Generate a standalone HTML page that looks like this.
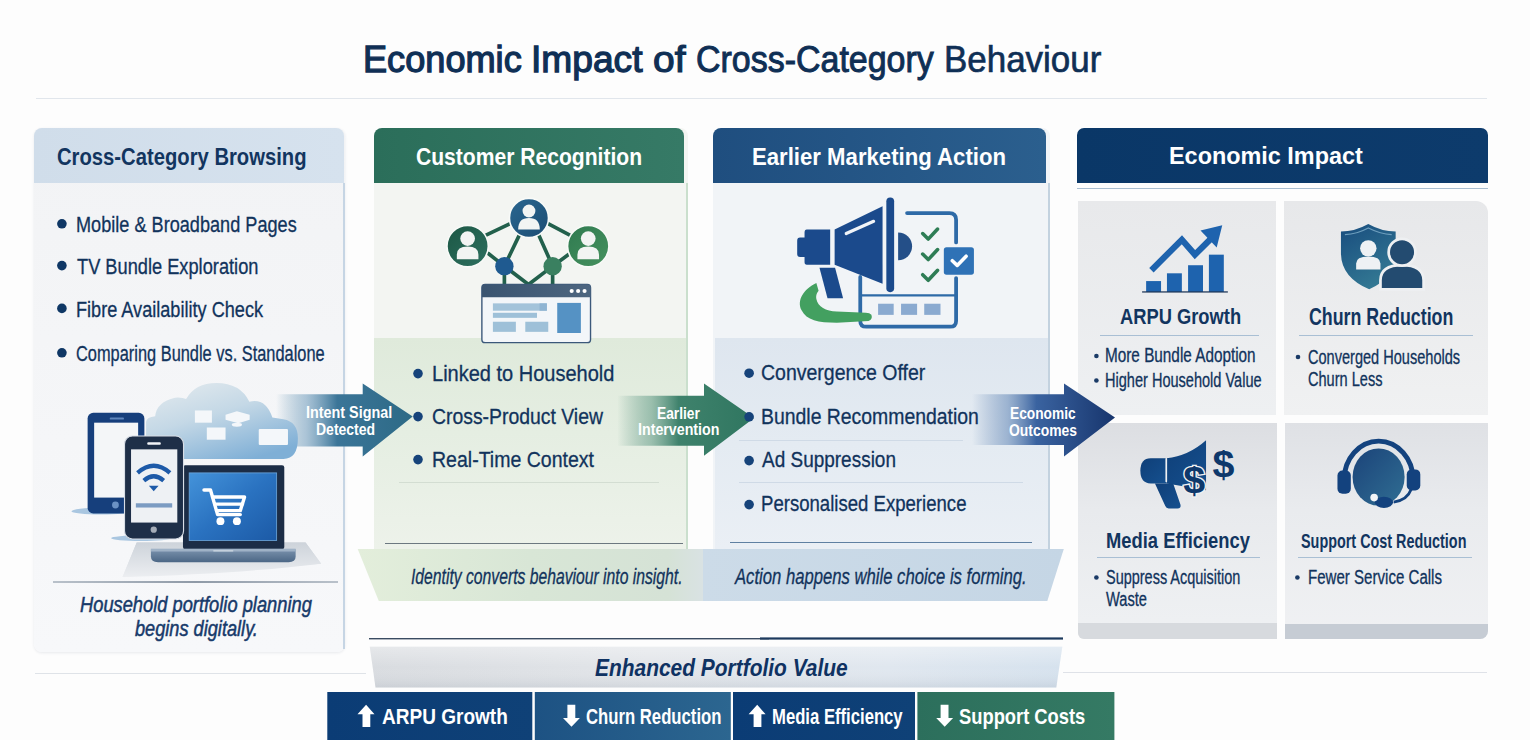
<!DOCTYPE html>
<html><head><meta charset="utf-8"><style>
html,body{margin:0;padding:0;}
body{width:1530px;height:740px;position:relative;overflow:hidden;background:#fdfdfd;font-family:"Liberation Sans",sans-serif;}
.a{position:absolute;box-sizing:border-box;}
.t{position:absolute;white-space:nowrap;line-height:1.1172;transform-origin:0 0;}
svg{position:absolute;overflow:visible;}
</style></head><body>
<!-- title line -->
<div class="a" style="left:36px;top:97.5px;width:1451px;height:1.5px;background:#e1e6ec"></div>
<!-- side gray lines -->
<div class="a" style="left:35px;top:673px;width:331px;height:1.3px;background:#dfe3e8"></div>
<div class="a" style="left:1063px;top:671.8px;width:424px;height:1.3px;background:#dfe2e8"></div>

<!-- PANEL 1 -->
<div class="a" style="left:34px;top:128px;width:311px;height:524px;border-radius:8px;background:linear-gradient(180deg,#f2f3f5 0%,#f5f6f8 60%,#f7f8fa 100%);box-shadow:0 1px 3px rgba(40,60,90,0.10)"></div>
<div class="a" style="left:34px;top:128px;width:310px;height:55px;border-radius:8px 8px 0 0;background:linear-gradient(90deg,#d0ddea,#d6e2ee)"></div>
<div class="a" style="left:342.5px;top:183px;width:2.5px;height:466px;background:#c6d5e4"></div>
<div class="a" style="left:53px;top:581px;width:285px;height:1.5px;background:linear-gradient(90deg,#b9c1ca,#8f9aa7 50%,#b9c1ca)"></div>

<!-- PANEL 2 -->
<div class="a" style="left:374px;top:128px;width:314px;height:421px;border-radius:8px 8px 0 0;background:#f3f5f2"></div>
<div class="a" style="left:374px;top:338px;width:314px;height:211px;background:linear-gradient(180deg,#dfeadb 0%,#e5eee2 45%,#edf2ea 100%)"></div>
<div class="a" style="left:374px;top:128px;width:310px;height:55px;border-radius:8px 8px 0 0;background:linear-gradient(90deg,#2b6e5a,#367a66)"></div>
<div class="a" style="left:685.5px;top:183px;width:2px;height:366px;background:#cadfcd"></div>
<div class="a" style="left:399px;top:481.5px;width:260px;height:1px;background:#d3ddd2"></div>
<div class="a" style="left:385px;top:542.5px;width:298px;height:1.5px;background:#6c7880"></div>

<!-- PANEL 3 -->
<div class="a" style="left:713px;top:128px;width:337px;height:421px;border-radius:8px 8px 0 0;background:#f1f4f7"></div>
<div class="a" style="left:714.5px;top:338px;width:335.5px;height:211px;background:linear-gradient(180deg,#dee6ef 0%,#e4ebf2 50%,#eaeff5 100%)"></div>
<div class="a" style="left:713px;top:128px;width:333px;height:55px;border-radius:8px 8px 0 0;background:linear-gradient(90deg,#1f4e7f,#2b5f8e)"></div>
<div class="a" style="left:1048px;top:183px;width:2px;height:366px;background:#c3d2df"></div>
<div class="a" style="left:739px;top:440px;width:224px;height:1px;background:#cfdae6"></div>
<div class="a" style="left:739px;top:482px;width:284px;height:1px;background:#cfdae6"></div>
<div class="a" style="left:730px;top:541.5px;width:302px;height:1.5px;background:#5f80a2"></div>

<!-- PANEL 4 -->
<div class="a" style="left:1077px;top:128px;width:411px;height:54.5px;border-radius:7px 7px 0 0;background:linear-gradient(90deg,#0a3767,#0d3b6c)"></div>
<div class="a" style="left:1077px;top:187.5px;width:411px;height:1.8px;background:#a9bdd0"></div>
<div class="a" style="left:1078px;top:201px;width:198px;height:213.5px;background:linear-gradient(180deg,#e8e9eb 0%,#eef0f2 100%)"></div>
<div class="a" style="left:1284px;top:201px;width:203.5px;height:214px;border-radius:0 12px 0 0;background:linear-gradient(180deg,#e7e8ea 0%,#f0f1f2 100%)"></div>
<div class="a" style="left:1078px;top:423px;width:198.5px;height:215.5px;border-radius:0 0 0 6px;background:linear-gradient(180deg,#dcdee2 0%,#e8eaed 40%,#eff1f3 100%)"></div>
<div class="a" style="left:1078px;top:622.5px;width:198.5px;height:16px;border-radius:0 0 0 6px;background:#d7dade"></div>
<div class="a" style="left:1285px;top:423px;width:203px;height:215.5px;border-radius:0 0 8px 0;background:linear-gradient(180deg,#dfe1e5 0%,#e9ebee 40%,#f0f1f3 100%)"></div>
<div class="a" style="left:1285px;top:623.5px;width:203px;height:15px;border-radius:0 0 8px 0;background:#c6ccd4"></div>

<div class="a" style="left:1099.5px;top:334.5px;width:159px;height:1.3px;background:#a9bfd4"></div>
<div class="a" style="left:1298.5px;top:334.7px;width:174px;height:1.3px;background:#a9bfd4"></div>
<div class="a" style="left:1096.5px;top:556.7px;width:163px;height:1.3px;background:#a9bfd4"></div>
<div class="a" style="left:1298.3px;top:556.7px;width:174px;height:1.3px;background:#a9bfd4"></div>
<!-- CAPTION BANDS + BOTTOM -->
<svg style="left:0;top:0" width="1530" height="740" viewBox="0 0 1530 740">
 <defs>
  <linearGradient id="gGreen" x1="0" x2="1" y1="0" y2="0">
   <stop offset="0" stop-color="#e3eedb"/><stop offset="0.5" stop-color="#d8e6d6"/><stop offset="0.9" stop-color="#d5e2d6"/><stop offset="1" stop-color="#d9e2e3"/>
  </linearGradient>
  <linearGradient id="gBlue" x1="0" x2="1" y1="0" y2="0">
   <stop offset="0" stop-color="#ccdbe8"/><stop offset="1" stop-color="#c5d6e5"/>
  </linearGradient>
  <linearGradient id="gEnh" x1="0" x2="1" y1="0" y2="0">
   <stop offset="0" stop-color="#d9dce0"/><stop offset="0.4" stop-color="#e2e5e9"/><stop offset="0.75" stop-color="#e0e7ef"/><stop offset="1" stop-color="#d6e2ee"/>
  </linearGradient>
  <linearGradient id="gC2" x1="0" x2="1" y1="0" y2="0">
   <stop offset="0" stop-color="#1d5283"/><stop offset="1" stop-color="#2c6690"/>
  </linearGradient>
  <linearGradient id="gC1" x1="0" x2="1" y1="0" y2="0">
   <stop offset="0" stop-color="#0b3c75"/><stop offset="1" stop-color="#0f4177"/>
  </linearGradient>
  <linearGradient id="gC4" x1="0" x2="1" y1="0" y2="0">
   <stop offset="0" stop-color="#2c6f5c"/><stop offset="1" stop-color="#357a64"/>
  </linearGradient>
  <linearGradient id="gA1" gradientUnits="userSpaceOnUse" x1="276" x2="412" y1="0" y2="0">
   <stop offset="0" stop-color="#4b84a6" stop-opacity="0"/><stop offset="0.22" stop-color="#6f9cbc" stop-opacity="0.55"/><stop offset="0.45" stop-color="#3b7598"/><stop offset="1" stop-color="#2d6a86"/>
  </linearGradient>
  <linearGradient id="gA2" gradientUnits="userSpaceOnUse" x1="617" x2="754" y1="0" y2="0">
   <stop offset="0" stop-color="#4a8a75" stop-opacity="0"/><stop offset="0.25" stop-color="#6aa08c" stop-opacity="0.6"/><stop offset="0.45" stop-color="#3f826c"/><stop offset="1" stop-color="#2f7660"/>
  </linearGradient>
  <linearGradient id="gA3" gradientUnits="userSpaceOnUse" x1="972" x2="1115" y1="0" y2="0">
   <stop offset="0" stop-color="#5a7fb0" stop-opacity="0"/><stop offset="0.25" stop-color="#6d8fbb" stop-opacity="0.6"/><stop offset="0.45" stop-color="#3a63a0"/><stop offset="1" stop-color="#17356d"/>
  </linearGradient>
 <linearGradient id="gEnhV" x1="0" x2="0" y1="0" y2="1">
   <stop offset="0" stop-color="#ffffff" stop-opacity="0.35"/><stop offset="0.5" stop-color="#ffffff" stop-opacity="0"/><stop offset="1" stop-color="#8a96a4" stop-opacity="0.18"/>
  </linearGradient>
 </defs>
 <polygon points="357.7,549 703,549 703,601 378.8,601" fill="url(#gGreen)"/>
 <polygon points="703,549 1063.8,549 1047.3,601 703,601" fill="url(#gBlue)"/>
 <rect x="369" y="638" width="400" height="1.4" fill="#3a4c62"/><rect x="760" y="637.4" width="303" height="2.2" fill="#1d3a5e"/>
 <polygon points="369.8,646.7 1062.3,646.7 1056.3,687.5 375.5,687.5" fill="url(#gEnh)"/>
 <polygon points="369.8,646.7 1062.3,646.7 1056.3,687.5 375.5,687.5" fill="url(#gEnhV)"/>
 <rect x="327.3" y="692" width="205" height="48" fill="url(#gC1)"/>
 <rect x="534.8" y="692" width="196" height="48" fill="url(#gC2)"/>
 <rect x="733" y="692" width="182" height="48" fill="url(#gC1)"/>
 <rect x="917.4" y="692" width="197" height="48" fill="url(#gC4)"/>
 <!-- bottom bar arrows -->
 <polygon points="366.1,704.8 374.5,714.3 370.3,714.3 370.3,727.1 362.5,727.1 362.5,714.3 357.5,714.3" fill="#fff"/>
 <polygon points="567.4,704.8 575.3,704.8 575.3,717.9 579.9,717.9 571.5,726.7 563,717.9 567.4,717.9" fill="#fff"/>
 <polygon points="757.2,704.8 765.6,714.3 761.4,714.3 761.4,727.1 753.6,727.1 753.6,714.3 748.6,714.3" fill="#fff"/>
 <polygon points="940.6,704.8 948.5,704.8 948.5,717.9 953.1,717.9 944.7,726.7 936.2,717.9 940.6,717.9" fill="#fff"/>
 <!-- process arrows -->
 <polygon points="276,394.3 362.7,394.3 362.7,383.5 412.7,416.6 362.7,456.5 362.7,446.4 276,446.4" fill="url(#gA1)"/>
 <polygon points="617.6,395.7 704,395.7 704,383.5 754,418 704,455.8 704,445.7 617.6,445.7" fill="url(#gA2)"/>
 <polygon points="972,394.3 1064,394.3 1064,383.5 1115,417.6 1064,456.5 1064,445 972,445" fill="url(#gA3)"/>
</svg>

<!-- bullets -->
<svg style="left:0;top:0" width="1530" height="740" viewBox="0 0 1530 740">
 <g fill="#0f3765">
  <circle cx="61.9" cy="223.8" r="4.8"/><circle cx="61.9" cy="265.6" r="4.8"/><circle cx="61.9" cy="308.4" r="4.8"/><circle cx="61.9" cy="352.8" r="4.8"/>
 </g>
 <g fill="#16437a">
  <circle cx="418" cy="373.6" r="4.8"/><circle cx="418" cy="416.6" r="4.8"/><circle cx="418" cy="459.6" r="4.8"/>
  <circle cx="749.1" cy="373.2" r="4.8"/><circle cx="749.1" cy="416.8" r="4.8"/><circle cx="749.1" cy="460.6" r="4.8"/><circle cx="749.1" cy="504.6" r="4.8"/>
 </g>
 <g fill="#1a3a66">
  <circle cx="1096.4" cy="356" r="2.3"/><circle cx="1096.4" cy="380.5" r="2.3"/>
  <circle cx="1298" cy="357" r="2.3"/>
  <circle cx="1096.4" cy="577.5" r="2.3"/>
  <circle cx="1297.4" cy="577.5" r="2.3"/>
 </g>
</svg>

<!-- network icon: region 370,180 320x170 zoom 1393x740 -->
<svg style="left:370px;top:180px" width="320" height="170" viewBox="0 0 1393 740">
 <defs>
  <linearGradient id="nTop" x1="0" y1="0" x2="1" y2="1"><stop offset="0" stop-color="#2a6690"/><stop offset="1" stop-color="#1c4d73"/></linearGradient>
  <linearGradient id="nL" x1="0" y1="0" x2="1" y2="1"><stop offset="0" stop-color="#1c5744"/><stop offset="1" stop-color="#2d7060"/></linearGradient>
  <linearGradient id="nR" x1="0" y1="0" x2="1" y2="1"><stop offset="0" stop-color="#2f7a50"/><stop offset="1" stop-color="#46925f"/></linearGradient>
  <linearGradient id="nBar" x1="0" y1="0" x2="1" y2="0"><stop offset="0" stop-color="#3a5470"/><stop offset="1" stop-color="#4d6680"/></linearGradient>
 </defs>
 <g stroke="#22604c" stroke-width="16" stroke-linecap="round" fill="none">
  <line x1="505" y1="240" x2="610" y2="190"/>
  <line x1="775" y1="190" x2="870" y2="240"/>
  <line x1="650" y1="240" x2="585" y2="375"/>
  <line x1="735" y1="240" x2="795" y2="375"/>
  <line x1="515" y1="320" x2="585" y2="375"/>
  <line x1="870" y1="320" x2="795" y2="375"/>
  <line x1="585" y1="375" x2="585" y2="460"/>
  <line x1="795" y1="375" x2="795" y2="460"/>
  <line x1="585" y1="375" x2="690" y2="455"/>
  <line x1="795" y1="375" x2="690" y2="455"/>
 </g>
 <circle cx="692" cy="165" r="85" fill="url(#nTop)" stroke="#f8faf8" stroke-width="7"/>
 <circle cx="425" cy="288" r="90" fill="url(#nL)" stroke="#f8faf8" stroke-width="7"/>
 <circle cx="950" cy="288" r="90" fill="url(#nR)" stroke="#f8faf8" stroke-width="7"/>
 <circle cx="585" cy="375" r="40" fill="#1f5a90"/>
 <circle cx="795" cy="375" r="40" fill="#3a8060"/>
 <g fill="#f2f4f3">
  <circle cx="692" cy="135" r="28"/><path d="M645,215 q0,-50 47,-50 q47,0 47,50 z"/>
  <circle cx="425" cy="255" r="32"/><path d="M378,345 l0,-20 q0,-35 47,-35 q47,0 47,35 l0,20 z"/>
  <circle cx="950" cy="255" r="32"/><path d="M903,345 l0,-20 q0,-35 47,-35 q47,0 47,35 l0,20 z"/>
 </g>
 <rect x="487" y="455" width="473" height="253" rx="14" fill="#f3f6f9" stroke="#3b587a" stroke-width="6"/>
 <path d="M487,469 q0,-14 14,-14 h445 q14,0 14,14 v41 h-473 z" fill="url(#nBar)"/>
 <g fill="#fff"><circle cx="878" cy="483" r="9"/><circle cx="906" cy="483" r="9"/><circle cx="934" cy="483" r="9"/></g>
 <rect x="535" y="537" width="235" height="32" fill="#a3c3da"/>
 <rect x="738" y="537" width="32" height="32" fill="#8fb4d2"/>
 <rect x="535" y="578" width="192" height="22" fill="#9ec0d8"/>
 <rect x="535" y="617" width="100" height="44" fill="#9ec0d8"/>
 <rect x="676" y="617" width="100" height="44" fill="#9ec0d8"/>
 <rect x="815" y="535" width="103" height="131" fill="#5592c4"/>
</svg>

<!-- megaphone icon: region 770,180 230x165 zoom 1032x740 -->
<svg style="left:770px;top:180px" width="230" height="165" viewBox="0 0 1032 740">
 <g fill="none" stroke="#2e6aa7" stroke-width="17" stroke-linecap="round" stroke-linejoin="round">
  <path d="M615,148 H805 Q835,148 835,178 V280"/>
  <path d="M835,440 V632 Q835,658 808,658 H432 Q405,658 405,632 V435"/>
  <line x1="405" y1="518" x2="835" y2="518" stroke-width="10"/>
 </g>
 <path d="M208,462 C150,490 120,540 141,583 C165,630 215,640 300,640 L442,633 Q462,625 455,605 Q448,595 430,595 L300,590 C250,588 215,570 208,534 C205,515 212,505 218,497 Z" fill="#43a060"/>
 <g fill="#8aaad0"><rect x="485" y="555" width="70" height="50"/><rect x="588" y="555" width="72" height="50"/><rect x="692" y="555" width="73" height="50"/></g>
 <g fill="#1b4a8c">
  <path d="M165,222 H270 V380 H165 Q155,380 155,368 V345 H135 Q122,345 122,332 V272 Q122,258 135,258 H155 V235 Q155,222 165,222 Z"/>
  <path d="M290,222 L505,118 V465 L290,380 Z"/>
  <path d="M222,393 H292 L328,530 H258 Z"/>
  <rect x="522" y="78" width="35" height="425" rx="17"/>
  <path d="M575,235 A62,62 0 0 1 575,360 Z" fill="#244f88"/>
 </g>
 <line x1="342" y1="240" x2="465" y2="185" stroke="#f1f4f8" stroke-width="14" stroke-linecap="round"/>
 <g fill="none" stroke="#2e7d55" stroke-width="16" stroke-linecap="round" stroke-linejoin="round">
  <path d="M685,240 L710,265 L752,220"/>
  <path d="M685,332 L710,357 L752,312"/>
  <path d="M685,425 L710,450 L752,405"/>
 </g>
 <rect x="780" y="302" width="135" height="123" rx="12" fill="#2f72b6"/>
 <path d="M818,362 L840,383 L880,342" fill="none" stroke="#fff" stroke-width="16" stroke-linecap="round" stroke-linejoin="round"/>
</svg>

<!-- devices: region 70,375 260x210 zoom 916x740 -->
<svg style="left:70px;top:375px" width="260" height="210" viewBox="0 0 916 740">
 <defs>
  <linearGradient id="dCloud" x1="0.1" y1="0" x2="0.7" y2="1"><stop offset="0" stop-color="#e3eaee"/><stop offset="0.45" stop-color="#c4d8e6"/><stop offset="1" stop-color="#7fafd6"/></linearGradient>
  <linearGradient id="dScr" x1="0" y1="0" x2="1" y2="1"><stop offset="0" stop-color="#4493da"/><stop offset="0.5" stop-color="#2a72c0"/><stop offset="1" stop-color="#1c5aa6"/></linearGradient>
  <linearGradient id="dPlat" x1="0" y1="0" x2="0" y2="1"><stop offset="0" stop-color="#cdd3da"/><stop offset="1" stop-color="#eceef1"/></linearGradient>
  <linearGradient id="dBase" x1="0" y1="0" x2="0" y2="1"><stop offset="0" stop-color="#7b93ad"/><stop offset="1" stop-color="#4b6685"/></linearGradient>
 </defs>
 <polygon points="235,590 830,590 885,665 185,712 190,700" fill="url(#dPlat)"/>
 <path d="M185,712 L235,590 H830 L885,665 Q600,700 185,712Z" fill="url(#dPlat)"/>
 <ellipse cx="110" cy="480" rx="105" ry="12" fill="#a9c6e0"/>
 <ellipse cx="250" cy="575" rx="105" ry="10" fill="#a9c6e0"/>
 <!-- cloud -->
 <path d="M268,295.6 L268,165 Q270,148 300,145 Q305,95 370,80 Q395,78 409,85 Q440,28 516,28 Q600,28 632,94 Q690,80 713,150 L752,156 Q803,165 803,223 Q803,295 752,295.6 Z" fill="url(#dCloud)"/>
 <g fill="#f4f7fa">
  <rect x="440" y="125" width="60" height="43"/>
  <rect x="482" y="185" width="66" height="43"/>
  <rect x="665" y="190" width="103" height="57" rx="4"/>
  <path d="M548,140 l40,-12 l45,12 v18 l-40,12 l-45,-12z"/>
  <ellipse cx="588" cy="175" rx="18" ry="7"/>
 </g>
 <!-- back phone -->
 <rect x="62" y="133" width="200" height="355" rx="20" fill="#163f7c"/>
 <rect x="85" y="168" width="155" height="264" fill="#f4f6f8"/>
 <rect x="140" y="150" width="50" height="7" rx="3" fill="#5f86bb"/>
 <circle cx="160" cy="458" r="12" fill="#6b92c4"/>
 <!-- laptop -->
 <rect x="398" y="318" width="357" height="296" rx="8" fill="#1c2d46"/>
 <rect x="420" y="345" width="308" height="238" fill="url(#dScr)" stroke="#6aa3d8" stroke-width="3"/>
 <path d="M285,614 H795 V640 Q795,660 770,660 H310 Q285,660 285,640 Z" fill="url(#dBase)"/>
 <rect x="285" y="612" width="510" height="10" fill="#9fb2c6"/>
 <rect x="505" y="617" width="70" height="5" fill="#c8d4df"/>
 <!-- cart -->
 <g fill="none" stroke="#fff" stroke-width="12" stroke-linecap="round" stroke-linejoin="round">
  <path d="M472,405 H495 L520,492 H600"/>
  <path d="M502,430 H615 L600,478 H516"/>
  <line x1="510" y1="455" x2="608" y2="455"/>
 </g>
 <circle cx="530" cy="515" r="14" fill="#fff"/><circle cx="588" cy="515" r="14" fill="#fff"/>
 <!-- front phone -->
 <rect x="192" y="215" width="208" height="363" rx="28" fill="#1e2f48" stroke="#d8dee6" stroke-width="4"/>
 <rect x="215" y="262" width="163" height="258" fill="#eef1f4"/>
 <rect x="272" y="237" width="48" height="9" rx="4" fill="#f2f4f7"/>
 <circle cx="295" cy="545" r="11" fill="#a5adb8"/>
 <g fill="none" stroke="#1d5aa8" stroke-width="15" stroke-linecap="butt">
  <path d="M238,345 Q295,295 352,345"/>
  <path d="M260,372 Q295,342 330,372"/>
 </g>
 <polygon points="278,390 312,390 295,410" fill="#1d5aa8"/>
 <rect x="232" y="452" width="128" height="15" fill="#7c9cc2"/>
</svg>

<!-- ARPU chart: region 1070,190 220x230 zoom 708x740 -->
<svg style="left:1070px;top:190px" width="220" height="230" viewBox="0 0 708 740">
 <g fill="#1e63ae">
  <rect x="245" y="293" width="48" height="35"/>
  <rect x="312" y="268" width="48" height="60"/>
  <rect x="380" y="242" width="48" height="86"/>
  <rect x="447" y="208" width="48" height="120"/>
 </g>
 <rect x="232" y="326" width="276" height="4" fill="#1c3556"/>
 <polyline points="262,258 360,160 402,208 455,155" fill="none" stroke="#1e63ae" stroke-width="20" stroke-linejoin="miter"/>
 <polygon points="490,113 420,130 472,185" fill="#1e63ae"/>
</svg>

<!-- shield/person: region 1230,110 300x225 zoom 987x740 -->
<svg style="left:1230px;top:110px" width="300" height="225" viewBox="0 0 987 740">
 <defs>
  <linearGradient id="sh" x1="0" y1="0" x2="0.5" y2="1"><stop offset="0" stop-color="#184c7e"/><stop offset="1" stop-color="#337893"/></linearGradient>
 </defs>
 <path d="M365,400 Q410,400 455,375 Q500,400 545,400 V470 Q545,550 458,590 Q365,550 365,470 Z" fill="url(#sh)"/>
 <path d="M378,410 Q418,408 455,388 Q495,408 532,410" fill="none" stroke="#6f9fbe" stroke-width="4"/>
 <g fill="#eef1f4">
  <circle cx="455" cy="455" r="27"/>
  <path d="M415,525 V505 Q415,482 455,482 Q495,482 495,505 V525 Z"/>
 </g>
 <g fill="#234b70" stroke="#eef0f2" stroke-width="9">
  <path d="M495,590 V560 Q495,510 566,510 Q637,510 637,560 V590 Z"/>
  <circle cx="566" cy="468" r="44"/>
 </g>
</svg>

<!-- media megaphone: region 1130,430 110x90 zoom 904x740 -->
<svg style="left:1130px;top:430px" width="110" height="90" viewBox="0 0 904 740">
 <defs><linearGradient id="mm" x1="0" y1="0" x2="1" y2="1"><stop offset="0" stop-color="#0f3f78"/><stop offset="1" stop-color="#15508f"/></linearGradient></defs>
 <g fill="url(#mm)">
  <path d="M170,232 L300,232 L300,440 L170,440 Q85,440 85,336 Q85,232 170,232 Z"/>
  <path d="M300,232 Q480,215 625,85 L625,495 Q480,470 300,440 Z"/>
  <path d="M205,440 L355,440 L415,615 Q422,645 390,645 L318,645 Q297,645 290,625 Z"/>
 </g>
 <rect x="291" y="230" width="14" height="200" rx="6" fill="#eef0f2"/>
 <text x="528" y="520" font-family="Liberation Sans" font-weight="bold" font-size="300" fill="#0e386b" stroke="#eef0f2" stroke-width="22" paint-order="stroke" text-anchor="middle" transform="translate(528,0) scale(1.08,1) translate(-528,0)">$</text>
 <text x="768" y="388" font-family="Liberation Sans" font-weight="bold" font-size="300" fill="#0e386b" text-anchor="middle" transform="translate(768,0) scale(1.08,1) translate(-768,0)">$</text>
</svg>

<!-- headset: region 1275,415 220x230 zoom 708x740 -->
<svg style="left:1275px;top:415px" width="220" height="230" viewBox="0 0 708 740">
 <defs>
  <linearGradient id="hs" x1="0" y1="0" x2="1" y2="1"><stop offset="0" stop-color="#1b4379"/><stop offset="1" stop-color="#306e93"/></linearGradient>
 </defs>
 <path d="M222,210 A111.5,126 0 0 1 445,210" fill="none" stroke="#13427e" stroke-width="16"/>
 <ellipse cx="333.4" cy="199.5" rx="83.7" ry="92" fill="url(#hs)"/>
 <rect x="201" y="178.6" width="43" height="75" rx="16" fill="#13427e"/>
 <rect x="424" y="175" width="43.6" height="68" rx="16" fill="#13427e"/>
 <path d="M438,240 Q425,275 382,280" fill="none" stroke="#13427e" stroke-width="9"/>
 <ellipse cx="350.6" cy="281" rx="29.6" ry="18" fill="#13427e"/>
 <circle cx="319" cy="265.8" r="12.2" fill="#f2f4f6"/>
</svg>

<div class="t" style="left:363.13px;top:37.79px;font-size:37.79px;font-weight:normal;color:#0f2f55;transform:scaleX(0.9568);-webkit-text-stroke:1.3px #0f2f55;">Economic</div>
<div class="t" style="left:531.05px;top:37.79px;font-size:37.79px;font-weight:normal;color:#0f2f55;transform:scaleX(0.9830);-webkit-text-stroke:1.3px #0f2f55;">Impact</div>
<div class="t" style="left:652.97px;top:37.79px;font-size:37.79px;font-weight:normal;color:#0f2f55;transform:scaleX(1.0319);-webkit-text-stroke:1.2px #0f2f55;">of</div>
<div class="t" style="left:696.10px;top:37.79px;font-size:37.79px;font-weight:normal;color:#0f2f55;transform:scaleX(0.8989);-webkit-text-stroke:1.0px #0f2f55;">Cross-Category</div>
<div class="t" style="left:944.23px;top:37.79px;font-size:37.79px;font-weight:normal;color:#0f2f55;transform:scaleX(0.9247);-webkit-text-stroke:0.7px #0f2f55;">Behaviour</div>
<div class="t" style="left:57.00px;top:143.79px;font-size:23.98px;font-weight:bold;color:#12355f;transform:scaleX(0.8440);">Cross-Category Browsing</div>
<div class="t" style="left:416.00px;top:144.29px;font-size:23.98px;font-weight:bold;color:#ffffff;transform:scaleX(0.8796);">Customer Recognition</div>
<div class="t" style="left:751.78px;top:144.29px;font-size:23.98px;font-weight:bold;color:#ffffff;transform:scaleX(0.9242);">Earlier Marketing Action</div>
<div class="t" style="left:1169.05px;top:142.13px;font-size:24.71px;font-weight:bold;color:#ffffff;transform:scaleX(0.9474);">Economic Impact</div>
<div class="t" style="left:75.96px;top:213.13px;font-size:21.51px;font-weight:normal;color:#11335c;transform:scaleX(0.8431);-webkit-text-stroke:0.3px #11335c;">Mobile &amp; Broadband Pages</div>
<div class="t" style="left:76.80px;top:255.03px;font-size:21.51px;font-weight:normal;color:#11335c;transform:scaleX(0.8480);-webkit-text-stroke:0.3px #11335c;">TV Bundle Exploration</div>
<div class="t" style="left:75.96px;top:298.03px;font-size:21.51px;font-weight:normal;color:#11335c;transform:scaleX(0.8430);-webkit-text-stroke:0.3px #11335c;">Fibre Availability Check</div>
<div class="t" style="left:76.04px;top:341.93px;font-size:21.51px;font-weight:normal;color:#11335c;transform:scaleX(0.7622);-webkit-text-stroke:0.3px #11335c;">Comparing Bundle vs. Standalone</div>
<div class="t" style="left:79.70px;top:592.66px;font-size:21.80px;font-weight:normal;font-style:italic;color:#173a6a;transform:scaleX(0.8390);-webkit-text-stroke:0.5px #173a6a;">Household portfolio planning</div>
<div class="t" style="left:134.80px;top:616.96px;font-size:21.80px;font-weight:normal;font-style:italic;color:#173a6a;transform:scaleX(0.8338);-webkit-text-stroke:0.5px #173a6a;">begins digitally.</div>
<div class="t" style="left:431.99px;top:361.73px;font-size:21.95px;font-weight:normal;color:#11335c;transform:scaleX(0.9119);-webkit-text-stroke:0.3px #11335c;">Linked to Household</div>
<div class="t" style="left:432.02px;top:405.03px;font-size:21.95px;font-weight:normal;color:#11335c;transform:scaleX(0.8837);-webkit-text-stroke:0.3px #11335c;">Cross-Product View</div>
<div class="t" style="left:432.01px;top:448.03px;font-size:21.95px;font-weight:normal;color:#11335c;transform:scaleX(0.8897);-webkit-text-stroke:0.3px #11335c;">Real-Time Context</div>
<div class="t" style="left:761.31px;top:360.96px;font-size:21.80px;font-weight:normal;color:#11335c;transform:scaleX(0.8942);-webkit-text-stroke:0.3px #11335c;">Convergence Offer</div>
<div class="t" style="left:761.31px;top:404.56px;font-size:21.80px;font-weight:normal;color:#11335c;transform:scaleX(0.8902);-webkit-text-stroke:0.3px #11335c;">Bundle Recommendation</div>
<div class="t" style="left:762.20px;top:448.06px;font-size:21.80px;font-weight:normal;color:#11335c;transform:scaleX(0.8706);-webkit-text-stroke:0.3px #11335c;">Ad Suppression</div>
<div class="t" style="left:761.35px;top:492.16px;font-size:21.80px;font-weight:normal;color:#11335c;transform:scaleX(0.8521);-webkit-text-stroke:0.3px #11335c;">Personalised Experience</div>
<div class="t" style="left:306.14px;top:403.87px;font-size:16.72px;font-weight:bold;color:#ffffff;transform:scaleX(0.8602);">Intent Signal</div>
<div class="t" style="left:315.96px;top:421.37px;font-size:16.72px;font-weight:bold;color:#ffffff;transform:scaleX(0.8378);">Detected</div>
<div class="t" style="left:656.52px;top:404.79px;font-size:15.70px;font-weight:bold;color:#ffffff;transform:scaleX(0.8778);">Earlier</div>
<div class="t" style="left:638.09px;top:420.59px;font-size:15.70px;font-weight:bold;color:#ffffff;transform:scaleX(0.9071);">Intervention</div>
<div class="t" style="left:1009.84px;top:405.13px;font-size:15.99px;font-weight:bold;color:#ffffff;transform:scaleX(0.8591);">Economic</div>
<div class="t" style="left:1009.00px;top:422.03px;font-size:15.99px;font-weight:bold;color:#ffffff;transform:scaleX(0.8695);">Outcomes</div>
<div class="t" style="left:1120.30px;top:304.86px;font-size:21.80px;font-weight:bold;color:#12355f;transform:scaleX(0.8404);">ARPU Growth</div>
<div class="t" style="left:1308.50px;top:304.25px;font-size:23.26px;font-weight:bold;color:#12355f;transform:scaleX(0.7654);">Churn Reduction</div>
<div class="t" style="left:1105.88px;top:527.60px;font-size:22.53px;font-weight:bold;color:#12355f;transform:scaleX(0.8158);">Media Efficiency</div>
<div class="t" style="left:1300.50px;top:528.92px;font-size:21.08px;font-weight:bold;color:#12355f;transform:scaleX(0.6825);">Support Cost Reduction</div>
<div class="t" style="left:1104.91px;top:345.30px;font-size:19.33px;font-weight:normal;color:#11335c;transform:scaleX(0.7920);-webkit-text-stroke:0.3px #11335c;">More Bundle Adoption</div>
<div class="t" style="left:1104.95px;top:369.90px;font-size:19.33px;font-weight:normal;color:#11335c;transform:scaleX(0.7526);-webkit-text-stroke:0.3px #11335c;">Higher Household Value</div>
<div class="t" style="left:1308.00px;top:346.50px;font-size:19.33px;font-weight:normal;color:#11335c;transform:scaleX(0.7530);-webkit-text-stroke:0.3px #11335c;">Converged Households</div>
<div class="t" style="left:1308.00px;top:369.30px;font-size:19.33px;font-weight:normal;color:#11335c;transform:scaleX(0.7538);-webkit-text-stroke:0.3px #11335c;">Churn Less</div>
<div class="t" style="left:1105.70px;top:567.20px;font-size:19.33px;font-weight:normal;color:#11335c;transform:scaleX(0.7488);-webkit-text-stroke:0.3px #11335c;">Suppress Acquisition</div>
<div class="t" style="left:1105.70px;top:588.70px;font-size:19.33px;font-weight:normal;color:#11335c;transform:scaleX(0.7578);-webkit-text-stroke:0.3px #11335c;">Waste</div>
<div class="t" style="left:1307.82px;top:567.20px;font-size:19.33px;font-weight:normal;color:#11335c;transform:scaleX(0.7797);-webkit-text-stroke:0.3px #11335c;">Fewer Service Calls</div>
<div class="t" style="left:411.20px;top:564.86px;font-size:21.80px;font-weight:normal;font-style:italic;color:#12335c;transform:scaleX(0.7205);-webkit-text-stroke:0.3px #12335c;">Identity converts behaviour into insight.</div>
<div class="t" style="left:734.53px;top:564.86px;font-size:21.80px;font-weight:normal;font-style:italic;color:#12335c;transform:scaleX(0.7644);-webkit-text-stroke:0.3px #12335c;">Action happens while choice is forming.</div>
<div class="t" style="left:595.20px;top:653.93px;font-size:24.71px;font-weight:bold;font-style:italic;color:#0f3262;transform:scaleX(0.8472);">Enhanced Portfolio Value</div>
<div class="t" style="left:381.80px;top:703.87px;font-size:22.67px;font-weight:bold;color:#ffffff;transform:scaleX(0.8399);">ARPU Growth</div>
<div class="t" style="left:586.20px;top:703.87px;font-size:22.67px;font-weight:bold;color:#ffffff;transform:scaleX(0.7370);">Churn Reduction</div>
<div class="t" style="left:772.06px;top:703.87px;font-size:22.67px;font-weight:bold;color:#ffffff;transform:scaleX(0.7359);">Media Efficiency</div>
<div class="t" style="left:959.00px;top:703.87px;font-size:22.67px;font-weight:bold;color:#ffffff;transform:scaleX(0.8092);">Support Costs</div>
</body></html>
